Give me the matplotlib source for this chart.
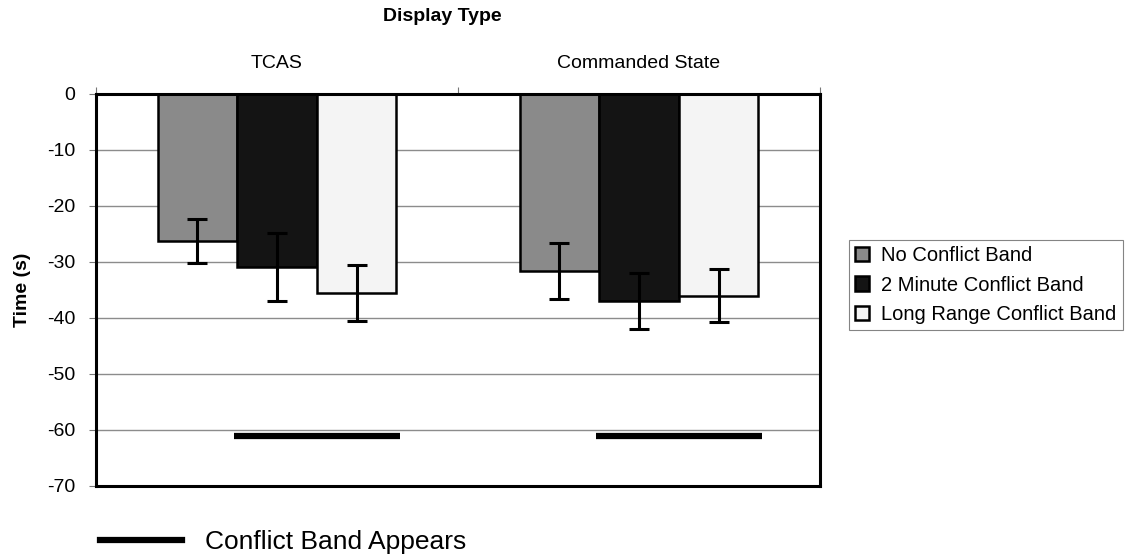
import matplotlib
matplotlib.use("Agg")
import matplotlib.pyplot as plt
from matplotlib.lines import Line2D
import numpy as np

plt.rcParams['font.family'] = ['Liberation Sans', 'DejaVu Sans']

categorias = ['TCAS', 'Commanded State']
series = ['No Conflict Band', '2 Minute Conflict Band', 'Long Range Conflict Band']
no_band = [-26.3, -31.6]
two_min = [-30.9, -37.0]
long_range = [-35.5, -36.0]
no_band_err = [3.9, 5.0]
two_min_err = [6.0, 5.0]
long_range_err = [5.0, 4.8]
band_appears = [-61.0, -61.0]
yticks = [0, -10, -20, -30, -40, -50, -60, -70]

cores = ['#8a8a8a', '#141414', '#f4f4f4']

fig = plt.figure(figsize=(11.26, 5.57), dpi=100)
ax = fig.add_axes([96 / 1126, 1 - 486 / 557, 724 / 1126, 392 / 557])

x = np.arange(len(categorias))
largura = 0.22
valores = [no_band, two_min, long_range]
erros = [no_band_err, two_min_err, long_range_err]
for i, (vals, errs) in enumerate(zip(valores, erros)):
    pos = x + (i - 1) * largura
    ax.bar(pos, vals, largura, color=cores[i], edgecolor='black', linewidth=1.8,
           label=series[i], zorder=2)
    ax.errorbar(pos, vals, yerr=errs, fmt='none', ecolor='black', elinewidth=2.2,
                capsize=7, capthick=2.2, zorder=3)

# linha "conflict band appears"
ax.hlines(band_appears, x - 0.12, x + 0.34, color='black', linewidth=4.5, zorder=3)

ax.set_xlim(-0.5, 1.5)
ax.set_ylim(-70, 0)
ax.set_yticks(yticks)
ax.set_yticklabels([str(v) for v in yticks], fontsize=14)
ax.yaxis.grid(True, color='#8c8c8c', linewidth=1.0)
ax.set_axisbelow(True)
ax.tick_params(axis='y', length=5, width=0.8, color='#777777', pad=10)

ax.xaxis.tick_top()
ax.set_xticks(x)
ax.set_xticklabels(categorias, fontsize=14)
ax.set_xticks([-0.5, 0.5, 1.5], minor=True)
ax.tick_params(axis='x', which='major', length=0, pad=16)
ax.tick_params(axis='x', which='minor', length=5, width=0.8, color='#777777')

ax.set_xlabel('Display Type', fontsize=14, fontweight='bold')
ax.xaxis.set_label_position('top')
ax.xaxis.set_label_coords(0.479, 1.185)
ax.set_ylabel('Time (s)', fontsize=14, fontweight='bold')
ax.yaxis.set_label_coords(-0.09, 0.5)

for s in ax.spines.values():
    s.set_linewidth(2.2)

leg = ax.legend(loc='upper left', bbox_to_anchor=(839 / 1126, 1 - 230 / 557),
                bbox_transform=fig.transFigure, fontsize=14.5, handlelength=0.7,
                handleheight=0.7, handletextpad=0.6, labelspacing=0.52,
                borderpad=0.3, fancybox=False, edgecolor='#666666')
leg.get_frame().set_linewidth(0.8)

fig.legend(handles=[Line2D([], [], color='black', linewidth=4.5)],
           labels=['Conflict Band Appears'], loc='center left',
           bbox_to_anchor=(76 / 1126, 1 - 542 / 557), frameon=False,
           fontsize=19, handlelength=3.1, handletextpad=0.9)

fig.savefig('out.png', dpi=100)
